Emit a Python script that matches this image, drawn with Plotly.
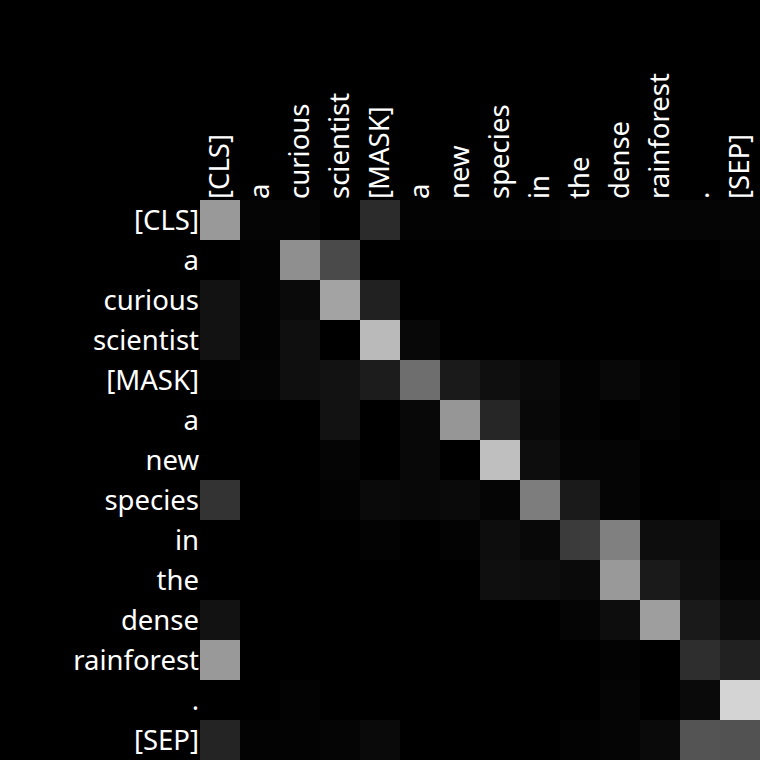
import plotly.graph_objects as go

tokens = ["[CLS]", "a", "curious", "scientist", "[MASK]", "a", "new",
          "species", "in", "the", "dense", "rainforest", ".", "[SEP]"]

# attention weights (0..1), rows = query token, cols = key token
row_cls        = [0.60, 0.02, 0.02, 0.00, 0.17, 0.01, 0.01, 0.01, 0.01, 0.02, 0.02, 0.02, 0.02, 0.02]
row_a1         = [0.00, 0.01, 0.56, 0.29, 0.00, 0.00, 0.00, 0.00, 0.00, 0.00, 0.00, 0.00, 0.00, 0.01]
row_curious    = [0.07, 0.01, 0.04, 0.64, 0.13, 0.00, 0.00, 0.00, 0.00, 0.00, 0.00, 0.00, 0.00, 0.00]
row_scientist  = [0.07, 0.01, 0.06, 0.00, 0.73, 0.03, 0.00, 0.00, 0.00, 0.00, 0.00, 0.00, 0.00, 0.00]
row_mask       = [0.01, 0.02, 0.06, 0.07, 0.11, 0.43, 0.10, 0.06, 0.04, 0.01, 0.03, 0.01, 0.00, 0.00]
row_a2         = [0.00, 0.00, 0.00, 0.07, 0.00, 0.03, 0.59, 0.15, 0.03, 0.01, 0.00, 0.01, 0.00, 0.00]
row_new        = [0.00, 0.00, 0.00, 0.02, 0.00, 0.03, 0.00, 0.75, 0.05, 0.02, 0.02, 0.00, 0.00, 0.00]
row_species    = [0.20, 0.00, 0.00, 0.01, 0.04, 0.03, 0.04, 0.02, 0.49, 0.10, 0.02, 0.00, 0.00, 0.01]
row_in         = [0.00, 0.00, 0.00, 0.00, 0.01, 0.00, 0.01, 0.05, 0.03, 0.23, 0.50, 0.05, 0.05, 0.00]
row_the        = [0.00, 0.00, 0.00, 0.00, 0.00, 0.00, 0.00, 0.06, 0.05, 0.04, 0.60, 0.10, 0.06, 0.02]
row_dense      = [0.07, 0.00, 0.00, 0.00, 0.00, 0.00, 0.00, 0.00, 0.00, 0.02, 0.05, 0.62, 0.10, 0.05]
row_rainforest = [0.60, 0.00, 0.00, 0.00, 0.00, 0.00, 0.00, 0.00, 0.00, 0.00, 0.01, 0.00, 0.18, 0.13]
row_period     = [0.00, 0.00, 0.01, 0.00, 0.00, 0.00, 0.00, 0.00, 0.00, 0.00, 0.02, 0.00, 0.04, 0.83]
row_sep        = [0.14, 0.01, 0.01, 0.02, 0.04, 0.00, 0.00, 0.00, 0.00, 0.01, 0.02, 0.04, 0.33, 0.32]

z = [row_cls, row_a1, row_curious, row_scientist, row_mask, row_a2, row_new,
     row_species, row_in, row_the, row_dense, row_rainforest, row_period, row_sep]

idx = list(range(len(tokens)))

fig = go.Figure(go.Heatmap(
    z=z, x=idx, y=idx,
    colorscale=[[0, "black"], [1, "white"]],
    zmin=0, zmax=1, showscale=False,
))

fig.update_layout(
    width=760, height=760,
    margin=dict(l=200, r=0, t=200, b=0),
    paper_bgcolor="black", plot_bgcolor="black",
    font=dict(family="Noto Sans", size=27.5, color="white"),
    xaxis=dict(side="top", tickmode="array", tickvals=idx, ticktext=tokens,
               tickangle=-90, showgrid=False, zeroline=False, ticks="",
               ticklabelstandoff=0, range=[-0.5, 13.5]),
    yaxis=dict(autorange="reversed", tickmode="array", tickvals=idx, ticktext=tokens,
               showgrid=False, zeroline=False, ticks="", ticklabelstandoff=0),
)

fig.write_html("out.html")
